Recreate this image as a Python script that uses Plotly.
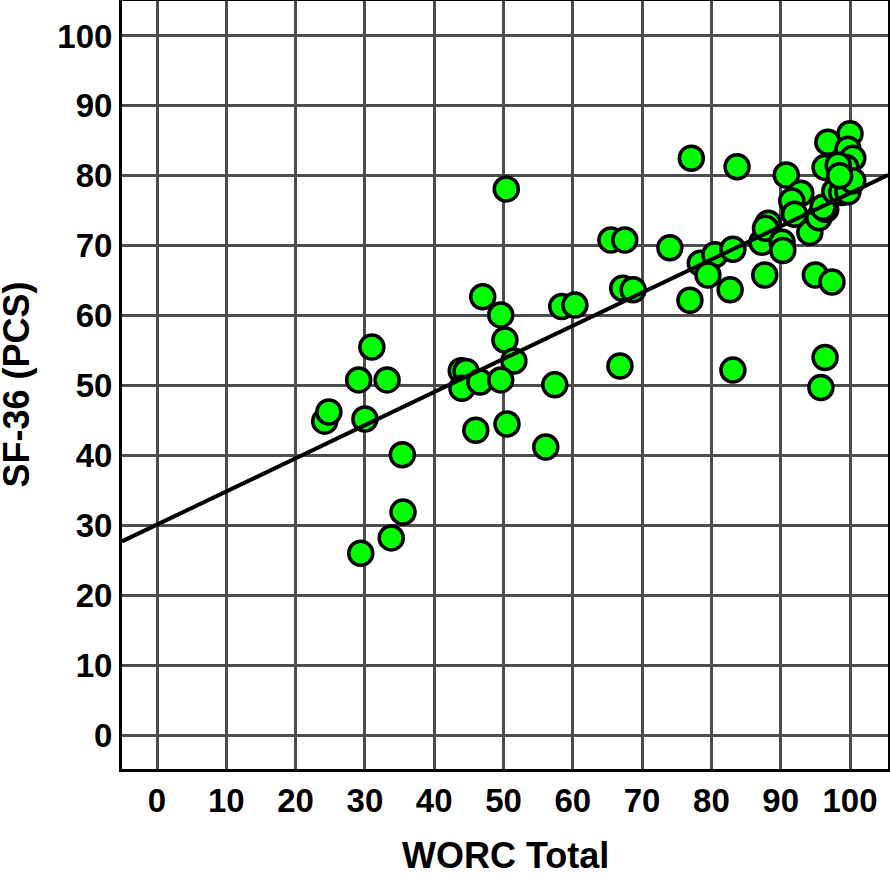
import plotly.graph_objects as go

# WORC Total (x) and SF-36 PCS (y) values
worc_total = [
    24.2, 24.8, 29.1, 30.0, 31.0, 33.2, 29.4, 33.8, 35.4, 35.5,
    43.9, 44.6, 44.0, 46.6, 47.0, 49.6, 50.2, 51.5, 49.6, 46.0,
    50.5, 50.4, 56.1, 57.4, 58.4, 60.3, 65.5, 67.5, 66.8, 67.2,
    68.7, 74.0, 76.9, 77.1, 78.4, 80.5, 79.5, 82.7, 83.1, 83.1,
    83.7, 87.7, 87.3, 88.2, 87.8, 90.2, 90.3, 90.8, 92.9, 91.6,
    94.2, 95.0, 97.4, 96.4, 95.8, 95.5, 96.5, 96.1, 97.8, 98.8,
    99.7, 96.8, 100.0, 99.7, 100.4, 96.4, 99.4, 98.3, 100.4, 98.5,
    92.0,
]
sf36_pcs = [
    44.9, 46.2, 50.8, 45.2, 55.5, 50.8, 26.0, 28.2, 40.1, 31.9,
    52.1, 52.0, 49.6, 50.5, 62.7, 60.1, 56.5, 53.5, 50.8, 43.6,
    44.5, 78.1, 41.2, 50.1, 61.3, 61.5, 70.8, 70.8, 52.8, 63.9,
    63.7, 69.7, 62.2, 82.5, 67.5, 68.7, 65.8, 63.7, 69.5, 52.2,
    81.3, 65.8, 70.5, 73.2, 72.5, 70.5, 69.3, 80.1, 77.5, 76.4,
    71.9, 65.8, 64.8, 54.0, 49.7, 74.0, 75.2, 75.5, 77.8, 77.6,
    77.7, 84.8, 86.0, 83.8, 82.5, 81.2, 81.2, 81.5, 79.3, 80.0,
    74.5,
]

x_title = "WORC Total"
y_title = "SF-36 (PCS)"

# regression line
fit_intercept = 30.1
fit_slope = 0.474

x_tick_vals = list(range(0, 101, 10))
y_tick_vals = list(range(0, 101, 10))
x_range = [-5.05, 105.48]
y_range = [-4.86, 105.0]

line_x = x_range
line_y = [fit_intercept + fit_slope * v for v in line_x]

fig = go.Figure()
fig.add_trace(go.Scatter(
    x=worc_total, y=sf36_pcs, mode="markers",
    marker=dict(size=24, color="#00FF00", line=dict(color="black", width=3.5)),
    showlegend=False,
))
fig.add_trace(go.Scatter(
    x=line_x, y=line_y, mode="lines",
    line=dict(color="black", width=4),
    showlegend=False,
))

font_family = "Liberation Sans, Arial, Helvetica, sans-serif"
title_font = dict(family=font_family, size=36, color="black", weight="bold")
axis_common = dict(
    showgrid=True, gridcolor="#4d4d4d", gridwidth=2.5,
    zeroline=False, showline=True, linecolor="black", linewidth=3,
    mirror=True, ticks="", automargin=False,
    tickfont=dict(family=font_family, size=33, color="black", weight="bold"),
)

fig.update_layout(
    width=890, height=873,
    margin=dict(l=122, r=2, t=1, b=104),
    paper_bgcolor="white", plot_bgcolor="white",
    xaxis=dict(range=x_range, tickvals=x_tick_vals, **axis_common),
    yaxis=dict(range=y_range, tickvals=y_tick_vals, **axis_common),
    annotations=[
        dict(text=x_title, xref="paper", yref="paper", x=0.5, y=0,
             xanchor="center", yanchor="top", yshift=-64, showarrow=False,
             font=title_font),
        dict(text=y_title, xref="paper", yref="paper", x=0, y=0.5,
             xanchor="right", yanchor="middle", xshift=-84, textangle=-90,
             showarrow=False, font=title_font),
    ],
)

fig.write_html("out.html", config={"displayModeBar": False},
               post_script="document.body.style.margin='0px';document.body.style.overflow='hidden';")
